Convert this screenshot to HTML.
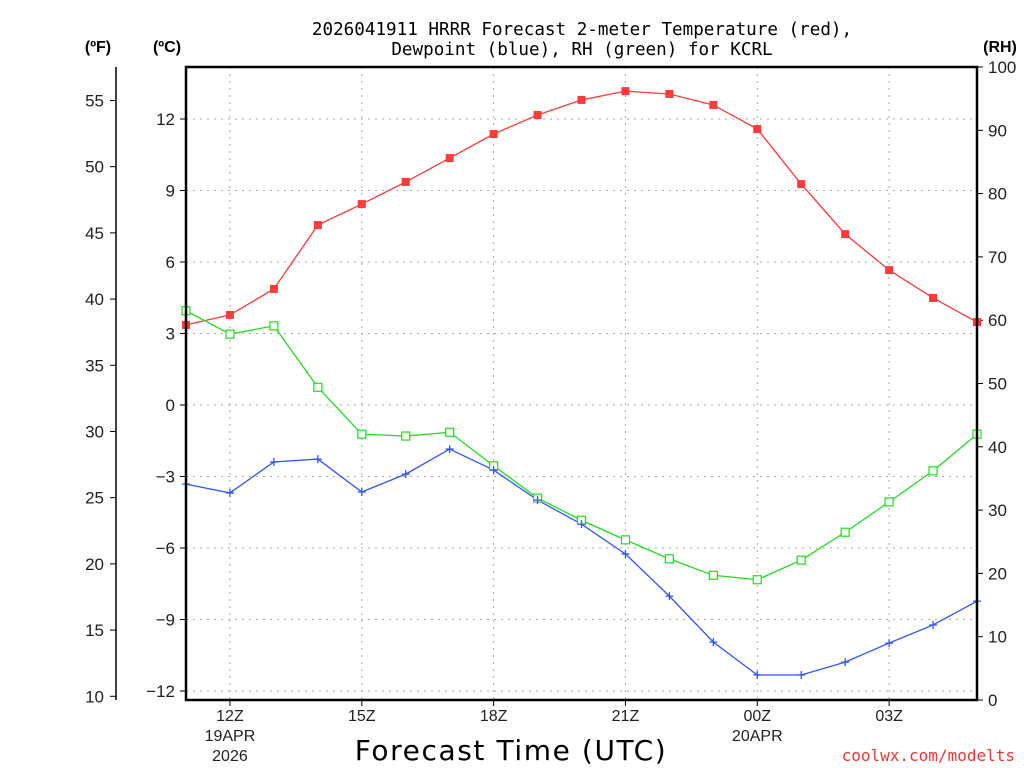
<!DOCTYPE html>
<html><head><meta charset="utf-8"><style>
body{margin:0;background:#fff;}
svg{display:block;font-family:"Liberation Sans",sans-serif;}
</style></head><body>
<svg id="c" width="1024" height="768" viewBox="0 0 1024 768">
<text x="582" y="35" text-anchor="middle" font-size="17.6" font-family="DejaVu Sans Mono, Liberation Mono, monospace">2026041911 HRRR Forecast 2-meter Temperature (red),</text>
<text x="582" y="55" text-anchor="middle" font-size="17.6" font-family="DejaVu Sans Mono, Liberation Mono, monospace">Dewpoint (blue), RH (green) for KCRL</text>
<text x="98" y="52" text-anchor="middle" font-size="16" font-weight="bold">(ºF)</text>
<text x="167" y="52" text-anchor="middle" font-size="16" font-weight="bold">(ºC)</text>
<text x="1000" y="52" text-anchor="middle" font-size="16" font-weight="bold">(RH)</text>
<text x="511" y="760" text-anchor="middle" font-size="28" letter-spacing="1.6" font-family="DejaVu Sans, sans-serif">Forecast Time (UTC)</text>
<text x="1015" y="761" text-anchor="end" font-size="16" fill="#e83a3a" font-family="DejaVu Sans Mono, monospace">coolwx.com/modelts</text>
<g id="grid"></g><g id="axes"></g><g id="series"></g>
<rect x="186" y="67" width="791" height="633" fill="none" stroke="#000" stroke-width="2.5"/>
</svg>
<script>
const hours=[0,1,2,3,4,5,6,7,8,9,10,11,12,13,14,15,16,17,18];
const tempC=[3.36,3.78,4.87,7.55,8.43,9.36,10.36,11.37,12.17,12.8,13.17,13.05,12.59,11.58,9.27,7.17,5.66,4.49,3.48];
const dewC=[-3.32,-3.69,-2.39,-2.27,-3.65,-2.9,-1.85,-2.73,-3.99,-5.0,-6.25,-8.02,-9.95,-11.33,-11.33,-10.79,-9.99,-9.23,-8.23];
const rh=[61.5,57.8,59.1,49.4,42.0,41.7,42.3,37.0,31.9,28.4,25.3,22.3,19.7,19.0,22.1,26.5,31.3,36.2,42.0];
const xTickHours=[1,4,7,10,13,16];
const xTickLabels=["12Z","15Z","18Z","21Z","00Z","03Z"];
const cTicks=[-12,-9,-6,-3,0,3,6,9,12];
const cLabels=["\u221212","\u22129","\u22126","\u22123","0","3","6","9","12"];
const fTicks=[10,15,20,25,30,35,40,45,50,55];
const rhTicks=[0,10,20,30,40,50,60,70,80,90,100];
const NS="http://www.w3.org/2000/svg";
const X=h=>186+h*(791/18);
const YC=c=>119+(12-c)*23.833;
const YF=f=>YC((f-32)/1.8);
const YR=r=>700-r*6.33;
function mk(p,t,a){const e=document.createElementNS(NS,t);for(const k in a)e.setAttribute(k,a[k]);p.appendChild(e);return e;}
const grid=document.getElementById('grid'),axes=document.getElementById('axes'),ser=document.getElementById('series');
xTickHours.forEach((h,i)=>{
 const g=mk(grid,'line',{x1:X(h),x2:X(h),y1:67,y2:700,stroke:'#aaa','stroke-dasharray':'2,5'});
 
 
 mk(axes,'line',{x1:X(h),x2:X(h),y1:700,y2:706,stroke:'#000'});
 const t=mk(axes,'text',{x:X(h),y:721,'text-anchor':'middle','font-size':16,fill:'#222'});t.textContent=xTickLabels[i];
 
 
});
[["19APR",1],["2026",1],["20APR",13]].forEach((d,i)=>{
 const t=mk(axes,'text',{x:X(d[1]),y:i==1?761:741,'text-anchor':'middle','font-size':16,fill:'#222'});t.textContent=d[0];
 
 
});
cTicks.forEach((c,i)=>{
 const g=mk(grid,'line',{x1:186,x2:977,y1:YC(c),y2:YC(c),stroke:'#aaa','stroke-dasharray':'2,5'});
 
 
 mk(axes,'line',{x1:180,x2:186,y1:YC(c),y2:YC(c),stroke:'#000'});
 const t=mk(axes,'text',{x:175,y:YC(c)+6,'text-anchor':'end','font-size':17,fill:'#222'});t.textContent=cLabels[i];
 
 
});
mk(axes,'line',{x1:116,x2:116,y1:67,y2:700,stroke:'#000','stroke-width':1.5});
fTicks.forEach(f=>{
 mk(axes,'line',{x1:110,x2:116,y1:YF(f),y2:YF(f),stroke:'#000'});
 const t=mk(axes,'text',{x:104,y:YF(f)+6,'text-anchor':'end','font-size':17,fill:'#222'});t.textContent=f;
 
 
});
rhTicks.forEach(r=>{
 mk(axes,'line',{x1:977,x2:983,y1:YR(r),y2:YR(r),stroke:'#000'});
 const t=mk(axes,'text',{x:988,y:YR(r)+6,'font-size':17,fill:'#222'});t.textContent=r;
 
 
});
function line(vals,yf,col,name){
 const p=mk(ser,'polyline',{points:vals.map((v,i)=>X(hours[i])+','+yf(v)).join(' '),fill:'none',stroke:col,'stroke-width':1.3});
 
 
}
line(tempC,YC,'#ff3b3b','temperature');
line(rh,YR,'#22dd22','rh');
line(dewC,YC,'#3355ff','dewpoint');
tempC.forEach((v,i)=>{const m=mk(ser,'rect',{x:X(hours[i])-4,y:YC(v)-4,width:8,height:8,fill:'#ff3b3b'});
 
 });
rh.forEach((v,i)=>{const m=mk(ser,'rect',{x:X(hours[i])-4,y:YR(v)-4,width:8,height:8,fill:'#fff',stroke:'#22dd22','stroke-width':1.2});
 
 });
dewC.forEach((v,i)=>{const x=X(hours[i]),y=YC(v);const m=mk(ser,'path',{d:`M${x-4},${y}H${x+4}M${x},${y-4}V${y+4}`,stroke:'#3355ff','stroke-width':1.3});
 
 });
</script>
</body></html>
